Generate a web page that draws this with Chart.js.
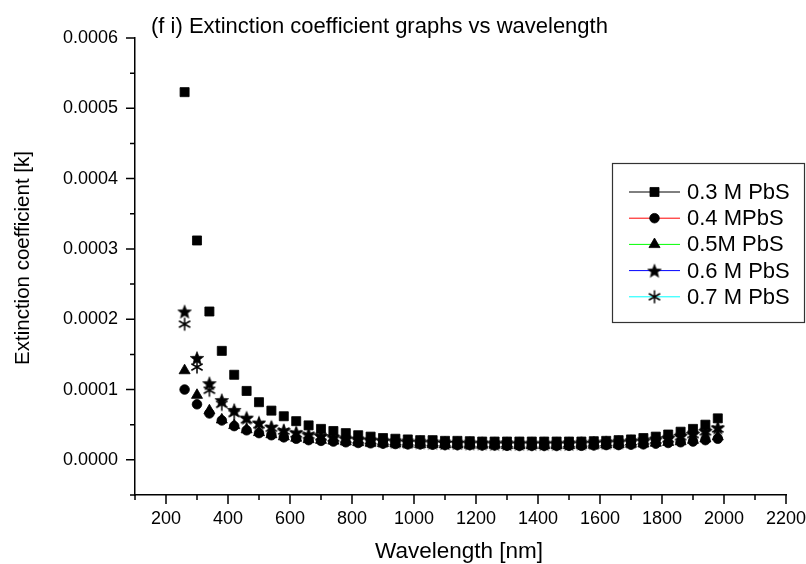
<!DOCTYPE html>
<html>
<head>
<meta charset="utf-8">
<script src="https://cdn.jsdelivr.net/npm/chart.js@4.4.0/dist/chart.umd.min.js"></script>
<style>
  html, body { margin: 0; padding: 0; background: #fff; }
</style>
</head>
<body>
<canvas id="extinctionChart" width="806" height="564"></canvas>
<script>
// wavelength in nm
const wavelengths = [260, 300, 340, 380, 420, 460, 500, 540, 580, 620,
  660, 700, 740, 780, 820, 860, 900, 940, 980, 1020,
  1060, 1100, 1140, 1180, 1220, 1260, 1300, 1340, 1380, 1420,
  1460, 1500, 1540, 1580, 1620, 1660, 1700, 1740, 1780, 1820,
  1860, 1900, 1940, 1980];

// extinction coefficient k
const k03 = [5.23e-4, 3.12e-4, 2.11e-4, 1.55e-4, 1.21e-4, 0.98e-4, 0.82e-4, 0.70e-4, 0.62e-4, 0.55e-4,
  0.49e-4, 0.44e-4, 0.41e-4, 0.38e-4, 0.35e-4, 0.33e-4, 0.31e-4, 0.30e-4, 0.29e-4, 0.28e-4,
  0.28e-4, 0.27e-4, 0.27e-4, 0.265e-4, 0.26e-4, 0.26e-4, 0.26e-4, 0.26e-4, 0.26e-4, 0.26e-4,
  0.26e-4, 0.26e-4, 0.26e-4, 0.265e-4, 0.27e-4, 0.28e-4, 0.29e-4, 0.31e-4, 0.33e-4, 0.36e-4,
  0.40e-4, 0.44e-4, 0.50e-4, 0.59e-4];
const k04 = [1.00e-4, 0.79e-4, 0.66e-4, 0.56e-4, 0.48e-4, 0.42e-4, 0.38e-4, 0.35e-4, 0.32e-4, 0.30e-4,
  0.28e-4, 0.27e-4, 0.26e-4, 0.25e-4, 0.24e-4, 0.235e-4, 0.23e-4, 0.225e-4, 0.22e-4, 0.22e-4,
  0.215e-4, 0.21e-4, 0.21e-4, 0.21e-4, 0.205e-4, 0.205e-4, 0.20e-4, 0.20e-4, 0.20e-4, 0.20e-4,
  0.20e-4, 0.20e-4, 0.20e-4, 0.205e-4, 0.21e-4, 0.21e-4, 0.215e-4, 0.22e-4, 0.23e-4, 0.24e-4,
  0.25e-4, 0.26e-4, 0.28e-4, 0.30e-4];
const k05 = [1.27e-4, 0.92e-4, 0.70e-4, 0.57e-4, 0.49e-4, 0.43e-4, 0.39e-4, 0.36e-4, 0.33e-4, 0.31e-4,
  0.29e-4, 0.28e-4, 0.27e-4, 0.26e-4, 0.25e-4, 0.24e-4, 0.235e-4, 0.23e-4, 0.225e-4, 0.22e-4,
  0.22e-4, 0.215e-4, 0.215e-4, 0.21e-4, 0.21e-4, 0.21e-4, 0.205e-4, 0.205e-4, 0.205e-4, 0.205e-4,
  0.205e-4, 0.205e-4, 0.21e-4, 0.21e-4, 0.215e-4, 0.22e-4, 0.225e-4, 0.23e-4, 0.24e-4, 0.25e-4,
  0.26e-4, 0.28e-4, 0.30e-4, 0.33e-4];
const k06 = [2.11e-4, 1.45e-4, 1.09e-4, 0.85e-4, 0.71e-4, 0.60e-4, 0.53e-4, 0.47e-4, 0.42e-4, 0.39e-4,
  0.36e-4, 0.34e-4, 0.32e-4, 0.30e-4, 0.29e-4, 0.28e-4, 0.27e-4, 0.26e-4, 0.255e-4, 0.25e-4,
  0.245e-4, 0.24e-4, 0.24e-4, 0.235e-4, 0.235e-4, 0.23e-4, 0.23e-4, 0.23e-4, 0.23e-4, 0.23e-4,
  0.23e-4, 0.23e-4, 0.235e-4, 0.24e-4, 0.245e-4, 0.25e-4, 0.26e-4, 0.27e-4, 0.29e-4, 0.31e-4,
  0.34e-4, 0.37e-4, 0.41e-4, 0.46e-4];
const k07 = [1.93e-4, 1.32e-4, 0.99e-4, 0.79e-4, 0.66e-4, 0.57e-4, 0.50e-4, 0.45e-4, 0.41e-4, 0.37e-4,
  0.35e-4, 0.33e-4, 0.31e-4, 0.29e-4, 0.28e-4, 0.27e-4, 0.26e-4, 0.255e-4, 0.25e-4, 0.245e-4,
  0.24e-4, 0.235e-4, 0.23e-4, 0.23e-4, 0.225e-4, 0.225e-4, 0.225e-4, 0.22e-4, 0.22e-4, 0.22e-4,
  0.22e-4, 0.225e-4, 0.23e-4, 0.235e-4, 0.24e-4, 0.245e-4, 0.255e-4, 0.265e-4, 0.28e-4, 0.30e-4,
  0.33e-4, 0.36e-4, 0.40e-4, 0.44e-4];

const seriesLabels = ['0.3 M PbS', '0.4 MPbS', '0.5M PbS', '0.6 M PbS', '0.7 M PbS'];
const lineColors = ['#000000', '#ff0000', '#00ff00', '#0000ff', '#00ffff'];

const xMajorTicks = [200, 400, 600, 800, 1000, 1200, 1400, 1600, 1800, 2000, 2200];
const xMinorTicks = [100, 300, 500, 700, 900, 1100, 1300, 1500, 1700, 1900, 2100];
const yMajorTicks = [0, 0.0001, 0.0002, 0.0003, 0.0004, 0.0005, 0.0006];
const yMinorTicks = [-0.00005, 0.00005, 0.00015, 0.00025, 0.00035, 0.00045, 0.00055];

const FONT = '"Liberation Sans", Arial, sans-serif';
Chart.defaults.font.family = FONT;
Chart.defaults.color = '#000';

// custom markers: filled 5-point star and thin asterisk
function makeMarker(size, draw) {
  const c = document.createElement('canvas');
  c.width = size;
  c.height = size;
  draw(c.getContext('2d'), size / 2);
  return c;
}
const starMarker = makeMarker(16, (g, m) => {
  g.beginPath();
  for (let i = 0; i < 10; i++) {
    const r = i % 2 ? 3.1 : 7.2;
    const a = -Math.PI / 2 + i * Math.PI / 5;
    g.lineTo(m + r * Math.cos(a), m + 0.8 + r * Math.sin(a));
  }
  g.closePath();
  g.fillStyle = '#000';
  g.fill();
  g.strokeStyle = '#000';
  g.lineWidth = 0.6;
  g.stroke();
});
const asteriskMarker = makeMarker(16, (g, m) => {
  g.strokeStyle = '#000';
  g.lineWidth = 1.5;
  g.beginPath();
  for (let i = 0; i < 3; i++) {
    const a = Math.PI / 2 + i * Math.PI / 3;
    g.moveTo(m + 6.5 * Math.cos(a), m + 6.5 * Math.sin(a));
    g.lineTo(m - 6.5 * Math.cos(a), m - 6.5 * Math.sin(a));
  }
  g.stroke();
});

const markerStyles = [
  { pointStyle: 'rect', radius: 6.4 },
  { pointStyle: 'circle', radius: 4.8 },
  { pointStyle: 'triangle', radius: 6.4 },
  { pointStyle: starMarker, radius: 6 },
  { pointStyle: asteriskMarker, radius: 6 }
];

const seriesValues = [k03, k04, k05, k06, k07];

const datasets = seriesValues.map((vals, i) => ({
  label: seriesLabels[i],
  data: wavelengths.map((w, j) => ({ x: w, y: vals[j] })),
  showLine: false,
  borderColor: lineColors[i],
  pointStyle: markerStyles[i].pointStyle,
  pointRadius: markerStyles[i].radius,
  pointBackgroundColor: '#000',
  pointBorderColor: '#000',
  pointBorderWidth: 0.8
}));

// ticks, titles and the boxed legend
const decorPlugin = {
  id: 'decor',
  afterDraw(chart) {
    const ctx = chart.ctx;
    const xs = chart.scales.x;
    const ys = chart.scales.y;
    const area = chart.chartArea;
    ctx.save();
    ctx.strokeStyle = '#000';
    ctx.lineWidth = 1.5;
    ctx.beginPath();
    xMajorTicks.forEach(v => { const p = xs.getPixelForValue(v); ctx.moveTo(p, area.bottom); ctx.lineTo(p, area.bottom + 9); });
    xMinorTicks.forEach(v => { const p = xs.getPixelForValue(v); ctx.moveTo(p, area.bottom); ctx.lineTo(p, area.bottom + 5); });
    yMajorTicks.forEach(v => { const p = ys.getPixelForValue(v); ctx.moveTo(area.left, p); ctx.lineTo(area.left - 9, p); });
    yMinorTicks.forEach(v => { const p = ys.getPixelForValue(v); ctx.moveTo(area.left, p); ctx.lineTo(area.left - 5, p); });
    ctx.stroke();

    // titles
    ctx.fillStyle = '#000';
    ctx.font = '22px ' + FONT;
    ctx.textAlign = 'left';
    ctx.textBaseline = 'alphabetic';
    ctx.fillText('(f i) Extinction coefficient graphs vs wavelength', 151, 33);

    ctx.font = '22.5px ' + FONT;
    ctx.textAlign = 'center';
    ctx.fillText('Wavelength [nm]', 459, 558);

    ctx.save();
    ctx.font = '20.5px ' + FONT;
    ctx.translate(23, 258);
    ctx.rotate(-Math.PI / 2);
    ctx.textBaseline = 'middle';
    ctx.fillText('Extinction coefficient [k]', 0, 0);
    ctx.restore();

    // legend box
    ctx.lineWidth = 1.2;
    ctx.strokeStyle = '#333';
    ctx.strokeRect(612.5, 163.5, 192, 159);
    ctx.font = '22px ' + FONT;
    ctx.textAlign = 'left';
    ctx.textBaseline = 'middle';
    chart.data.datasets.forEach((ds, i) => {
      const y = 192 + i * 26.2;
      ctx.strokeStyle = ds.borderColor;
      ctx.lineWidth = 1;
      ctx.beginPath();
      ctx.moveTo(629, y);
      ctx.lineTo(680, y);
      ctx.stroke();
      ctx.fillStyle = '#000';
      ctx.strokeStyle = '#000';
      ctx.lineWidth = 0.8;
      Chart.helpers.drawPoint(ctx, { pointStyle: ds.pointStyle, radius: ds.pointRadius, rotation: 0, borderWidth: 0.8 }, 654.5, y);
      ctx.fillStyle = '#000';
      ctx.fillText(ds.label, 687, y + 1);
    });
    ctx.restore();
  }
};

const extinctionChart = new Chart(document.getElementById('extinctionChart'), {
  type: 'scatter',
  data: { datasets: datasets },
  options: {
    responsive: false,
    animation: false,
    devicePixelRatio: 1,
    layout: { padding: { top: 38, right: 20, left: 0, bottom: 0 } },
    plugins: {
      legend: { display: false },
      tooltip: { enabled: false }
    },
    scales: {
      x: {
        type: 'linear',
        min: 100,
        max: 2200,
        afterBuildTicks: s => { s.ticks = xMajorTicks.map(v => ({ value: v })); },
        afterFit: s => { s.height = 69; s.paddingLeft = 0; s.paddingRight = 0; },
        grid: { display: false, drawTicks: false },
        border: { display: true, color: '#000', width: 1.5 },
        ticks: { font: { size: 18 }, padding: 13, maxRotation: 0, autoSkip: false, color: '#000', callback: v => String(v) }
      },
      y: {
        type: 'linear',
        min: -0.00005,
        max: 0.0006,
        afterBuildTicks: s => { s.ticks = yMajorTicks.map(v => ({ value: v })); },
        afterFit: s => { s.width = 135; s.paddingTop = 0; s.paddingBottom = 0; },
        grid: { display: false, drawTicks: false },
        border: { display: true, color: '#000', width: 1.5 },
        ticks: { font: { size: 18 }, padding: 17, color: '#000', callback: v => Math.abs(v).toFixed(4) }
      }
    }
  },
  plugins: [decorPlugin]
});
</script>
</body>
</html>
